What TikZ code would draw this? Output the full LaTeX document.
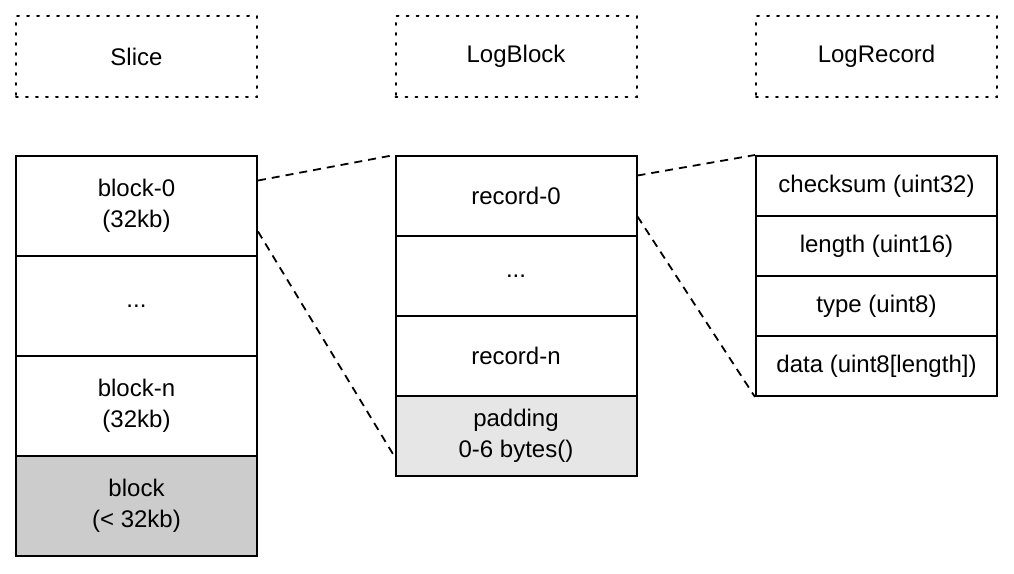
\documentclass[tikz,border=0pt]{standalone}
\usepackage{fontspec}
\setmainfont{Liberation Sans}
\usetikzlibrary{calc}
\begin{document}
\begin{tikzpicture}[x=0.5pt,y=-0.5pt,
  font=\fontsize{12}{15.5}\selectfont,
  cell/.style={draw=black, line width=1pt, rectangle, inner sep=0pt, minimum width=120.5pt, align=center},
  big/.style={cell, minimum height=50pt},
  mid/.style={cell, minimum height=40pt},
  small/.style={cell, minimum height=30pt},
  header/.style={draw=black, line width=1pt, dash pattern=on 0.9pt off 4.1pt, line cap=round, rectangle, inner sep=0pt, minimum width=120.5pt, minimum height=40.5pt},
  link/.style={draw=black, line width=0.9pt, dash pattern=on 4pt off 3pt}]
\useasboundingbox (0,0) rectangle (1014,574);
% headers
\node[header] (hs) at (136.5,56.5) {Slice};
\node[header] (hb) at (516,56.5) {LogBlock};
\node[header] (hr) at (876.5,56.5) {LogRecord};
% slice
\node[big] (b0) at (136.5,206) {block-0\\(32kb)};
\node[big] (b1) at (136.5,306) {...};
\node[big] (bn) at (136.5,406) {block-n\\(32kb)};
\node[big, fill={rgb,255:red,204;green,204;blue,204}] (bl) at (136.5,506) {block\\(< 32kb)};
% logblock
\node[mid] (r0) at (516,196) {record-0};
\node[mid] (r1) at (516,276) {...};
\node[mid] (rn) at (516,356) {record-n};
\node[mid, fill={rgb,255:red,230;green,230;blue,230}] (pad) at (516,436) {padding\\0-6 bytes()};
% logrecord
\node[small] (f1) at (876.5,186) {checksum (uint32)};
\node[small] (f2) at (876.5,246) {length (uint16)};
\node[small] (f3) at (876.5,306) {type (uint8)};
\node[small] (f4) at (876.5,366) {data (uint8[length])};
% links
\draw[link] ($(b0.north east)!0.25!(b0.south east)$) -- (r0.north west);
\draw[link] ($(b0.north east)!0.75!(b0.south east)$) -- ($(pad.north west)!0.75!(pad.south west)$);
\draw[link] ($(r0.north east)!0.25!(r0.south east)$) -- (f1.north west);
\draw[link] ($(r0.north east)!0.75!(r0.south east)$) -- (f4.south west);
\end{tikzpicture}
\end{document}
